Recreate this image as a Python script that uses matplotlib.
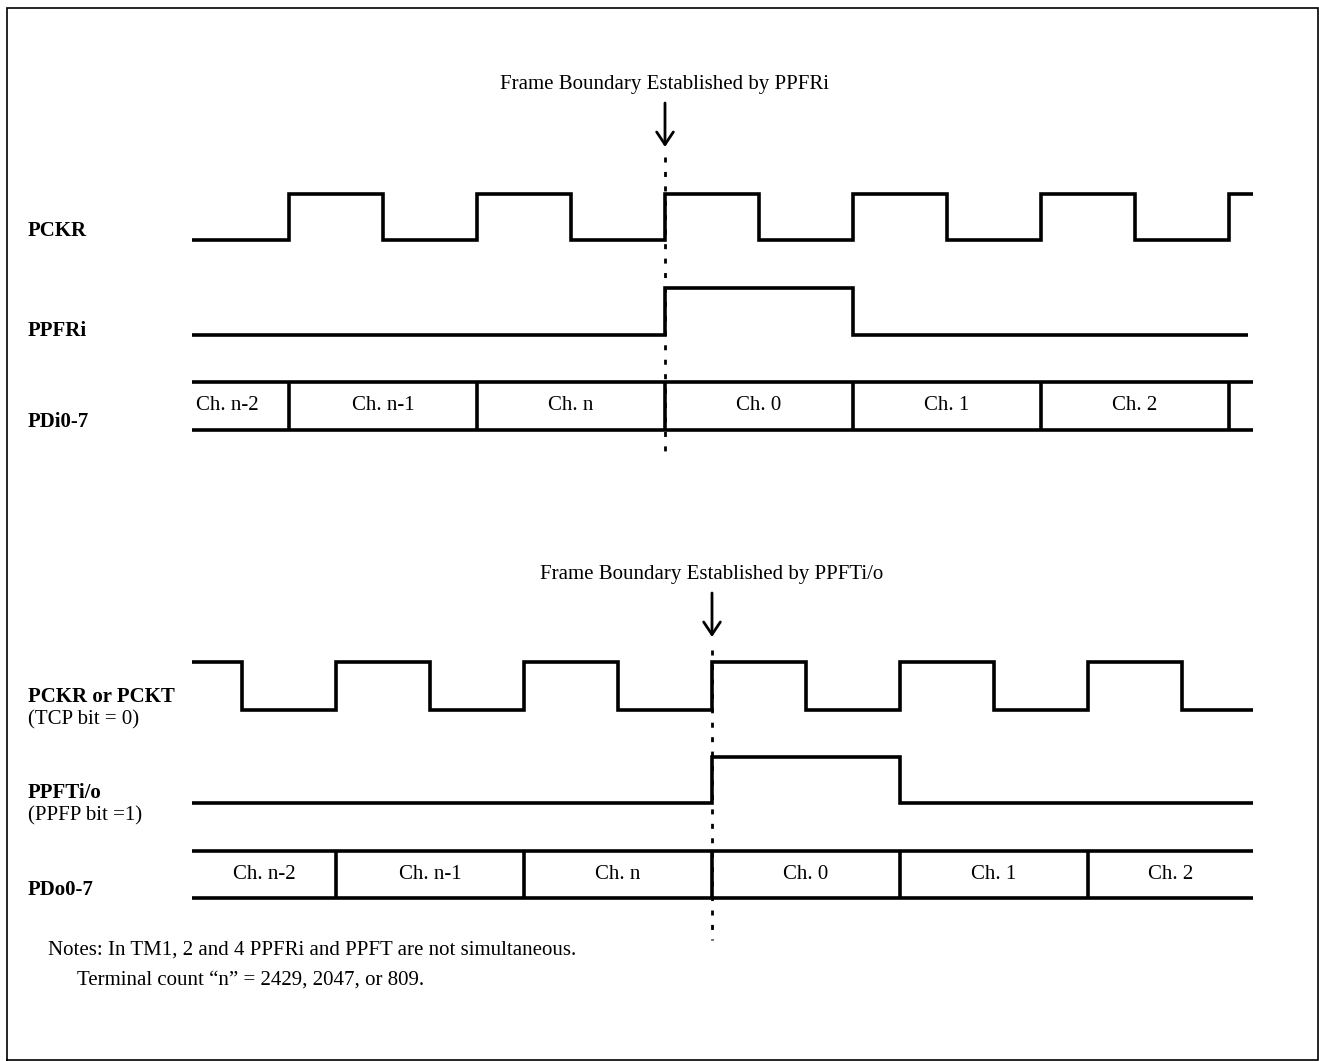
import matplotlib
matplotlib.use("Agg")
import matplotlib.pyplot as plt

# ---------------- data (time in clock half-periods; frame boundary of PPFRi at t=0) ----------------
top_title = "Frame Boundary Established by PPFRi"
bot_title = "Frame Boundary Established by PPFTi/o"

top_start, top_end = -5.03, 6.26
pckr_start_level = 0
pckr_edges = [-4, -3, -2, -1, 0, 1, 2, 3, 4, 5, 6]
ppfri_start_level = 0
ppfri_edges = [0, 2]
ppfri_end = 6.2
pdi_bounds = [-4, -2, 0, 2, 4, 6]
pdi_labels = ["Ch. n-2", "Ch. n-1", "Ch. n", "Ch. 0", "Ch. 1", "Ch. 2"]
top_boundary = 0

bot_start, bot_end = -5.03, 6.26
pckt_start_level = 1
pckt_edges = [-4.5, -3.5, -2.5, -1.5, -0.5, 0.5, 1.5, 2.5, 3.5, 4.5, 5.5]
ppft_start_level = 0
ppft_edges = [0.5, 2.5]
pdo_bounds = [-3.5, -1.5, 0.5, 2.5, 4.5]
pdo_labels = ["Ch. n-2", "Ch. n-1", "Ch. n", "Ch. 0", "Ch. 1", "Ch. 2"]
bot_boundary = 0.5

top_signal_names = ["PCKR", "PPFRi", "PDi0-7"]
bot_signal_names = ["PCKR or PCKT", "PPFTi/o", "PDo0-7"]
bot_signal_subs = ["(TCP bit = 0)", "(PPFP bit =1)", None]
notes = ["Notes: In TM1, 2 and 4 PPFRi and PPFT are not simultaneous.",
         "Terminal count \u201cn\u201d = 2429, 2047, or 809."]

# ---------------- layout ----------------
W, H = 1319, 1061
PX = 94.0          # pixels per half-period
X0 = 665.0         # pixel of t = 0
fig = plt.figure(figsize=(W / 100, H / 100), dpi=100)
ax = fig.add_axes([0, 0, 1, 1])
ax.set_xlim((0 - X0) / PX, (W - X0) / PX)
ax.set_ylim(H, 0)
ax.axis("off")

plt.rcParams["font.family"] = ["Liberation Serif", "DejaVu Serif"]
FS = 15
LW = 2.6
K = "black"

def px(x):
    return (x - X0) / PX

def wave(start, end, level0, edges, y_hi, y_lo):
    xs, ys = [start], []
    lvl = level0
    ys.append(y_hi if lvl else y_lo)
    for e in edges:
        xs.append(e); ys.append(y_hi if lvl else y_lo)
        lvl = 1 - lvl
        xs.append(e); ys.append(y_hi if lvl else y_lo)
    xs.append(end); ys.append(y_hi if lvl else y_lo)
    ax.plot(xs, ys, color=K, lw=LW, solid_joinstyle="miter", solid_capstyle="butt")

def bus(start, end, bounds, labels, y_t, y_b, first_left=False):
    ax.plot([start, end], [y_t, y_t], color=K, lw=LW, solid_capstyle="butt")
    ax.plot([start, end], [y_b, y_b], color=K, lw=LW, solid_capstyle="butt")
    for b in bounds:
        ax.plot([b, b], [y_t, y_b], color=K, lw=LW, solid_capstyle="butt")
    edges = [start] + list(bounds) + [end]
    ym = (y_t + y_b) / 2
    for i, lab in enumerate(labels):
        a, c = edges[i], edges[i + 1]
        if i == 0 and first_left:
            ax.text(px(196), ym, lab, ha="left", va="center", fontsize=FS)
        else:
            ax.text((a + c) / 2, ym, lab, ha="center", va="center", fontsize=FS)

def boundary(t, y_text, y_arrow0, y_arrow1, y_dash0, y_dash1, title):
    ax.text(t, y_text, title, ha="center", va="center", fontsize=FS)
    ax.annotate("", xy=(t, y_arrow1), xytext=(t, y_arrow0),
                arrowprops=dict(arrowstyle="->,head_length=0.9,head_width=0.6",
                                color=K, lw=2.0, shrinkA=0, shrinkB=0,
                                mutation_scale=10))
    ax.plot([t, t], [y_dash0, y_dash1], color=K, lw=2.0,
            linestyle=(0, (1.8, 3.4)), solid_capstyle="butt")

# top section
boundary(top_boundary, 84, 103, 147, 157, 458, top_title)
wave(top_start, top_end, pckr_start_level, pckr_edges, 194, 240)
wave(top_start, ppfri_end, ppfri_start_level, ppfri_edges, 288, 335)
bus(top_start, top_end, pdi_bounds, pdi_labels, 382, 430, first_left=True)
for name, y in zip(top_signal_names, [231, 331, 422]):
    ax.text(px(28), y, name, ha="left", va="center", fontsize=FS, fontweight="bold")

# bottom section
boundary(bot_boundary, 574, 593, 637, 650, 940, bot_title)
wave(bot_start, bot_end, pckt_start_level, pckt_edges, 662, 710)
wave(bot_start, bot_end, ppft_start_level, ppft_edges, 757, 803)
bus(bot_start, bot_end, pdo_bounds, pdo_labels, 851, 898)
for name, sub, y in zip(bot_signal_names, bot_signal_subs, [697, 793, 890]):
    ax.text(px(28), y, name, ha="left", va="center", fontsize=FS, fontweight="bold")
    if sub:
        ax.text(px(28), y + 23, sub, ha="left", va="center", fontsize=FS)

ax.text(px(48), 950, notes[0], ha="left", va="center", fontsize=FS)
ax.text(px(77), 980, notes[1], ha="left", va="center", fontsize=FS)

# frame
ax.plot([px(7), px(7), px(1318), px(1318), px(7)], [1060, 8, 8, 1060, 1060],
        color=K, lw=1.2, solid_joinstyle="miter")

fig.savefig("out.png", dpi=100)
